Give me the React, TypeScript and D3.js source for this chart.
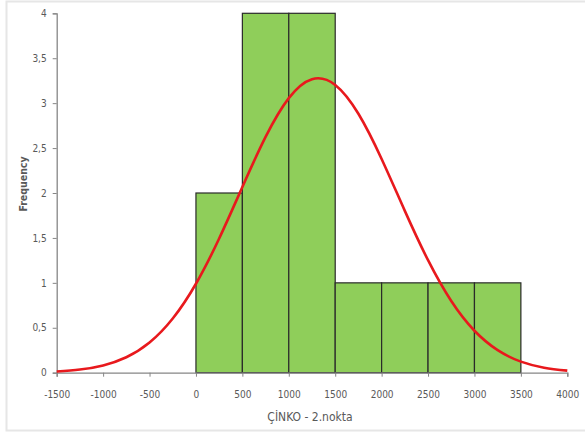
import React, { useRef, useEffect } from 'react';
import * as d3 from 'd3';

// histogram bins (lower edge) and counts
const binStarts = [0, 500, 1000, 1500, 2000, 2500, 3000];
const binWidth = 500;
const counts = [2, 4, 4, 1, 1, 1, 1];

// fitted normal curve
const curveX = [-1500, -1250, -1000, -750, -500, -250, 0, 250, 500, 750, 1000, 1250, 1500,
  1750, 2000, 2250, 2500, 2750, 3000, 3250, 3500, 3750, 4000];
const curveY = [0.014, 0.035, 0.081, 0.172, 0.336, 0.603, 0.99, 1.494, 2.067, 2.624, 3.056, 3.267, 3.203,
  2.882, 2.379, 1.801, 1.252, 0.798, 0.467, 0.251, 0.123, 0.056, 0.023];

const xTicks = [-1500, -1000, -500, 0, 500, 1000, 1500, 2000, 2500, 3000, 3500, 4000];
const yTicks = [0, 0.5, 1, 1.5, 2, 2.5, 3, 3.5, 4];

const App = () => {
  const svgRef = useRef<SVGSVGElement>(null);

  useEffect(() => {
    const svg = d3.select(svgRef.current);
    svg.selectAll('*').remove();

    const font = "'DejaVu Sans Condensed', 'Liberation Sans', sans-serif";
    const axisColor = '#868686';
    const textColor = '#595959';

    // chart frame
    svg.append('rect')
      .attr('x', 6.5).attr('y', 1.5)
      .attr('width', 590).attr('height', 429)
      .attr('fill', '#fff')
      .attr('stroke', '#e6e6e6')
      .attr('stroke-width', 2);

    const x = d3.scaleLinear().domain([-1500, 4000]).range([56.7, 567.3]);
    const y = d3.scaleLinear().domain([0, 4]).range([372.7, 13.3]);

    // bars
    svg.append('g')
      .selectAll('rect')
      .data(counts)
      .join('rect')
      .attr('x', (d, i) => x(binStarts[i]))
      .attr('y', d => y(d))
      .attr('width', (d, i) => x(binStarts[i] + binWidth) - x(binStarts[i]))
      .attr('height', d => y(0) - y(d))
      .attr('fill', '#8fce5a')
      .attr('stroke', '#2a2a2a')
      .attr('stroke-width', 1.2);

    // x axis
    const xAxis = svg.append('g')
      .attr('transform', `translate(0,${y(0)})`)
      .call(d3.axisBottom(x).tickValues(xTicks).tickSize(4).tickFormat(d => String(d)));
    xAxis.select('.domain').attr('stroke', axisColor).attr('stroke-width', 1.3);
    xAxis.selectAll('.tick line').attr('stroke', axisColor);
    xAxis.selectAll('.tick text')
      .attr('fill', textColor)
      .attr('font-family', font)
      .attr('font-size', 10)
      .attr('dy', '0')
      .attr('y', 25);

    // y axis
    const yAxis = svg.append('g')
      .attr('transform', `translate(${x(-1500)},0)`)
      .call(d3.axisLeft(y).tickValues(yTicks).tickSize(4)
        .tickFormat(d => String(d).replace('.', ',')));
    yAxis.select('.domain').attr('stroke', axisColor).attr('stroke-width', 1.3);
    yAxis.selectAll('.tick line').attr('stroke', axisColor);
    yAxis.selectAll('.tick text')
      .attr('fill', textColor)
      .attr('font-family', font)
      .attr('font-size', 10)
      .attr('x', -10);

    // normal curve
    const line = d3.line<number>()
      .x((d, i) => x(curveX[i]))
      .y(d => y(d))
      .curve(d3.curveNatural);
    svg.append('path')
      .datum(curveY)
      .attr('d', line)
      .attr('fill', 'none')
      .attr('stroke', '#e8191d')
      .attr('stroke-width', 2.6);

    // axis titles
    svg.append('text')
      .attr('x', 310)
      .attr('y', 421)
      .attr('text-anchor', 'middle')
      .attr('font-family', font)
      .attr('font-size', 12)
      .attr('fill', textColor)
      .text('ÇİNKO - 2.nokta');

    svg.append('text')
      .attr('transform', 'translate(27,184) rotate(-90)')
      .attr('text-anchor', 'middle')
      .attr('font-family', font)
      .attr('font-size', 10.5)
      .attr('font-weight', 'bold')
      .attr('fill', textColor)
      .text('Frequency');
  }, []);

  return (
    <svg ref={svgRef} width={585} height={433}
      style={{ position: 'absolute', left: 0, top: 0, display: 'block' }} />
  );
};

export default App;
